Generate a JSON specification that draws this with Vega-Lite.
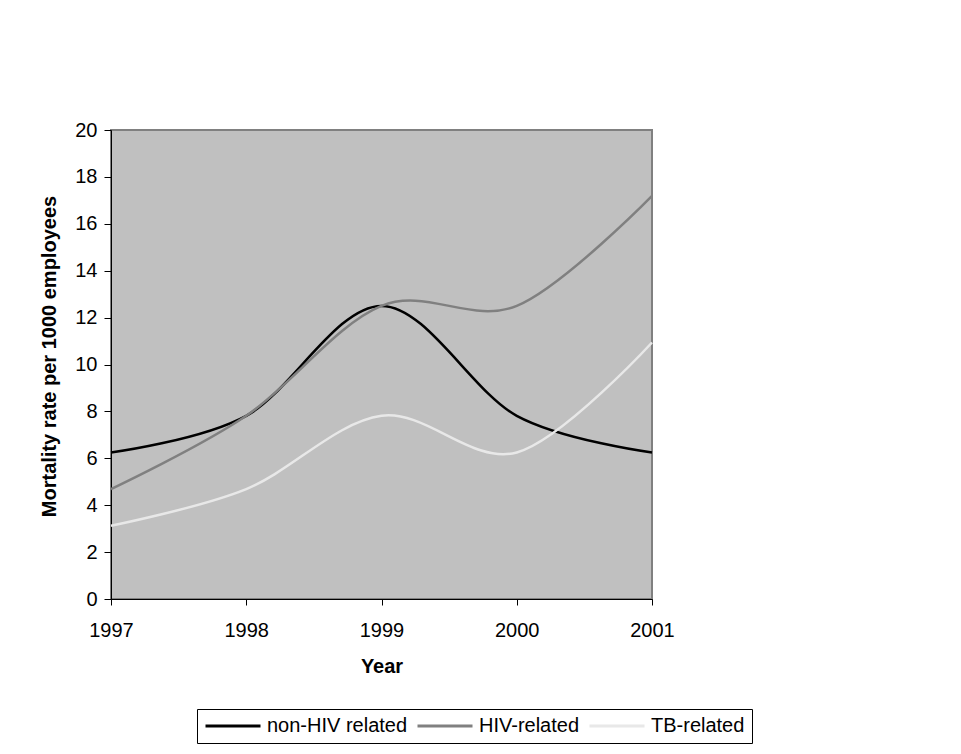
{
  "$schema": "https://vega.github.io/schema/vega-lite/v6.json",
  "width": 541,
  "height": 469,
  "autosize": {"type": "none"},
  "padding": {"left": 111, "top": 130, "right": 309, "bottom": 155},
  "background": "white",
  "config": {
    "font": "Liberation Sans",
    "view": {"fill": "#c0c0c0", "stroke": "#808080", "strokeWidth": 2},
    "axis": {
      "grid": false,
      "domainColor": "#000000",
      "tickColor": "#000000",
      "labelColor": "#000000",
      "titleColor": "#000000",
      "labelFontSize": 20,
      "titleFontSize": 20,
      "titleFontWeight": "bold",
      "labelFont": "Liberation Sans",
      "titleFont": "Liberation Sans"
    }
  },
  "data": {
    "values": [
      {"year": 1997, "series": "non-HIV related", "rate": 6.25},
      {"year": 1998, "series": "non-HIV related", "rate": 7.8125},
      {"year": 1999, "series": "non-HIV related", "rate": 12.5},
      {"year": 2000, "series": "non-HIV related", "rate": 7.8125},
      {"year": 2001, "series": "non-HIV related", "rate": 6.25},
      {"year": 1997, "series": "HIV-related", "rate": 4.6875},
      {"year": 1998, "series": "HIV-related", "rate": 7.8125},
      {"year": 1999, "series": "HIV-related", "rate": 12.5},
      {"year": 2000, "series": "HIV-related", "rate": 12.5},
      {"year": 2001, "series": "HIV-related", "rate": 17.1875},
      {"year": 1997, "series": "TB-related", "rate": 3.125},
      {"year": 1998, "series": "TB-related", "rate": 4.6875},
      {"year": 1999, "series": "TB-related", "rate": 7.8125},
      {"year": 2000, "series": "TB-related", "rate": 6.25},
      {"year": 2001, "series": "TB-related", "rate": 10.9375}
    ]
  },
  "mark": {"type": "line", "interpolate": "cardinal", "strokeWidth": 2.5},
  "encoding": {
    "x": {
      "field": "year",
      "type": "quantitative",
      "scale": {"domain": [1997, 2001], "nice": false, "zero": false},
      "axis": {
        "title": "Year",
        "values": [1997, 1998, 1999, 2000, 2001],
        "format": "d",
        "tickSize": 6,
        "labelPadding": 15,
        "titlePadding": 16,
        "labelFlush": false
      }
    },
    "y": {
      "field": "rate",
      "type": "quantitative",
      "scale": {"domain": [0, 20], "nice": false},
      "axis": {
        "title": "Mortality rate per 1000 employees",
        "values": [0, 2, 4, 6, 8, 10, 12, 14, 16, 18, 20],
        "tickSize": 7,
        "labelPadding": 7,
        "titleX": -52,
        "titleY": 226
      }
    },
    "color": {
      "field": "series",
      "type": "nominal",
      "sort": ["non-HIV related", "HIV-related", "TB-related"],
      "scale": {
        "domain": ["non-HIV related", "HIV-related", "TB-related"],
        "range": ["#000000", "#808080", "#e8e8e8"]
      },
      "legend": {
        "title": null,
        "orient": "none",
        "legendX": 86,
        "legendY": 579,
        "direction": "horizontal",
        "symbolType": "stroke",
        "symbolSize": 3025,
        "symbolStrokeWidth": 3,
        "clipHeight": 20,
        "labelFontSize": 20,
        "labelFont": "Liberation Sans",
        "labelColor": "#000000",
        "labelOffset": 5,
        "labelLimit": 300,
        "columnPadding": 8,
        "padding": 7,
        "strokeColor": "#000000",
        "fillColor": "#ffffff"
      }
    }
  }
}
